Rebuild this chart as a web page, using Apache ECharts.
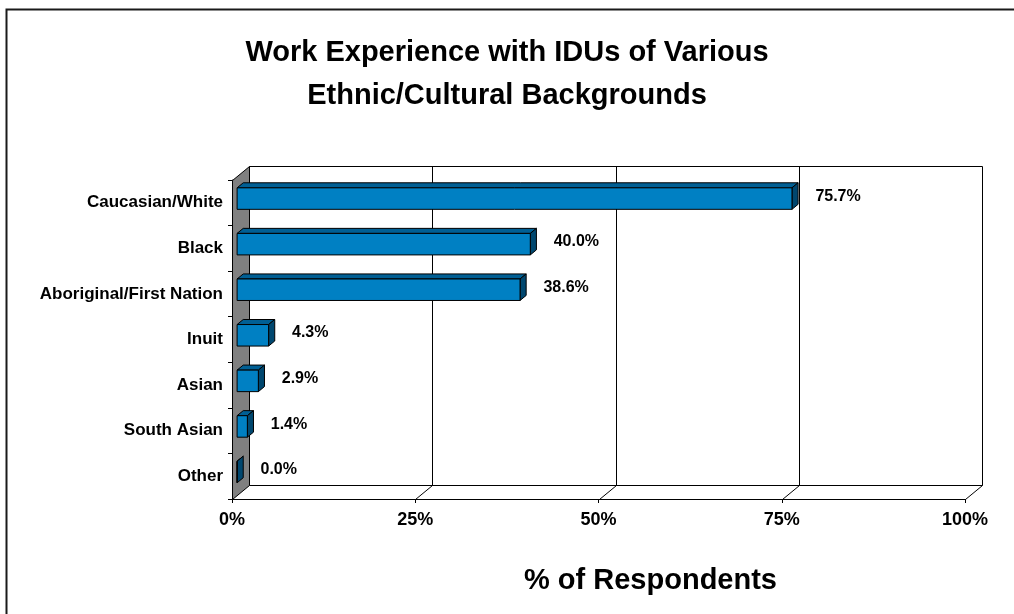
<!DOCTYPE html>
<html>
<head>
<meta charset="utf-8">
<script src="https://cdn.jsdelivr.net/npm/echarts@6/dist/echarts.min.js"></script>
<style>
html,body{margin:0;padding:0;background:#fff;}
#chart{width:1014px;height:614px;}
</style>
</head>
<body>
<div id="chart"></div>
<script>
const categories = ['Caucasian/White', 'Black', 'Aboriginal/First Nation', 'Inuit', 'Asian', 'South Asian', 'Other'];
const values = [75.7, 40.0, 38.6, 4.3, 2.9, 1.4, 0.0];
const xTicks = [0, 25, 50, 75, 100];
const titleLines = ['Work Experience with IDUs of Various', 'Ethnic/Cultural Backgrounds'];
const axisTitle = '% of Respondents';

const FONT = '"Liberation Sans", Arial, sans-serif';
const DEPTH = [17, -14];       // 3D depth offset of the back wall
const F1 = 0.30, F2 = 0.66;    // bar depth span as fraction of wall depth
const BAR_FRAC = 0.472;        // bar thickness relative to band

const barData = values.map((v, i) => [v, i]);

function px(v) { return Math.round(v) + 0.5; }

function renderWalls(params, api) {
  const cs = params.coordSys;
  const left = cs.x, top = cs.y, bottom = cs.y + cs.height;
  const dx = DEPTH[0], dy = DEPTH[1];
  const children = [];
  const xEnd = api.coord([100, 0])[0];
  children.push({
    type: 'polygon',
    shape: { points: [[px(left + dx), px(top + dy)], [px(xEnd + dx), px(top + dy)],
                      [px(xEnd + dx), px(bottom + dy)], [px(left + dx), px(bottom + dy)]] },
    style: { fill: '#ffffff', stroke: '#000', lineWidth: 1 }
  });
  xTicks.forEach(t => {
    if (t === 0 || t === 100) return;
    const x = px(api.coord([t, 0])[0] + dx);
    children.push({ type: 'line', shape: { x1: x, y1: px(top + dy), x2: x, y2: px(bottom + dy) },
      style: { stroke: '#000', lineWidth: 1 } });
  });
  xTicks.forEach(t => {
    if (t === 0) return;
    const x = api.coord([t, 0])[0];
    children.push({ type: 'line', shape: { x1: px(x), y1: px(bottom), x2: px(x + dx), y2: px(bottom + dy) },
      style: { stroke: '#000', lineWidth: 1 } });
  });
  children.push({
    type: 'polygon',
    shape: { points: [[px(left), px(top)], [px(left + dx), px(top + dy)], [px(left + dx), px(bottom + dy)], [px(left), px(bottom)]] },
    style: { fill: '#808080', stroke: '#000', lineWidth: 1 }
  });
  return { type: 'group', children: children };
}

function renderBar(params, api) {
  const v = api.value(0);
  const idx = api.value(1);
  const band = api.size([0, 1])[1];
  const p0 = api.coord([0, idx]);
  const p1 = api.coord([v, idx]);
  const ox = DEPTH[0] * F1, oy = DEPTH[1] * F1;
  const dx = DEPTH[0] * (F2 - F1), dy = DEPTH[1] * (F2 - F1);
  const h = band * BAR_FRAC;
  const x0 = p0[0] + ox, x1 = p1[0] + ox;
  const yc = p0[1] + oy;
  const yt = yc - h / 2, yb = yc + h / 2;
  const edge = { stroke: '#000', lineWidth: 1 };
  return {
    type: 'group',
    children: [
      { type: 'polygon', shape: { points: [[x0, yt], [x1, yt], [x1 + dx, yt + dy], [x0 + dx, yt + dy]] },
        style: Object.assign({ fill: '#005f94' }, edge) },
      { type: 'polygon', shape: { points: [[x1, yt], [x1 + dx, yt + dy], [x1 + dx, yb + dy], [x1, yb]] },
        style: Object.assign({ fill: '#00476f' }, edge) },
      { type: 'rect', shape: { x: x0, y: yt, width: Math.max(x1 - x0, 0), height: h },
        style: Object.assign({ fill: '#0080c3' }, edge) },
      { type: 'text', x: p1[0] + 28.5, y: p0[1] - 6.5,
        style: { text: v.toFixed(1) + '%', fill: '#000', font: 'bold 16px ' + FONT,
                 textAlign: 'left', textVerticalAlign: 'middle' } }
    ]
  };
}

const chart = echarts.init(document.getElementById('chart'), null, { renderer: 'canvas' });
chart.setOption({
  animation: false,
  backgroundColor: '#ffffff',
  title: {
    text: titleLines.join('\n'),
    left: 'center',
    top: 31,
    padding: [0, 0, 0, 13],
    textStyle: { fontFamily: FONT, fontWeight: 'bold', fontSize: 29, lineHeight: 43, color: '#000' }
  },
  graphic: [
    { type: 'polyline', silent: true, shape: { points: [[6.5, 614], [6.5, 9.5], [1014, 9.5]] },
      style: { stroke: '#1a1a1a', lineWidth: 2, fill: null } }
  ],
  grid: { left: 232, right: 49, top: 180, bottom: 115, containLabel: false },
  xAxis: {
    type: 'value', min: 0, max: 100, interval: 25,
    axisLine: { show: true, lineStyle: { color: '#000', width: 1 } },
    axisTick: { show: true, length: 4, lineStyle: { color: '#000' } },
    splitLine: { show: false },
    axisLabel: { formatter: '{value}%', fontFamily: FONT, fontWeight: 'bold', fontSize: 18, color: '#000', margin: 12 },
    name: axisTitle,
    nameLocation: 'middle',
    nameGap: 67,
    nameTextStyle: { fontFamily: FONT, fontWeight: 'bold', fontSize: 29, color: '#000', padding: [0, 0, 0, 104] }
  },
  yAxis: {
    type: 'category', data: categories, inverse: true,
    axisLine: { show: true, lineStyle: { color: '#000', width: 1 } },
    axisTick: { show: true, length: 4, lineStyle: { color: '#000' } },
    splitLine: { show: false },
    axisLabel: { fontFamily: FONT, fontWeight: 'bold', fontSize: 17, color: '#000', margin: 9 }
  },
  series: [
    { type: 'custom', name: 'walls', renderItem: renderWalls, data: [[0, 0]], z: 1, silent: true },
    { type: 'custom', name: 'bars', renderItem: renderBar, data: barData, encode: { x: 0, y: 1 }, z: 3, silent: true }
  ]
});
</script>
</body>
</html>
